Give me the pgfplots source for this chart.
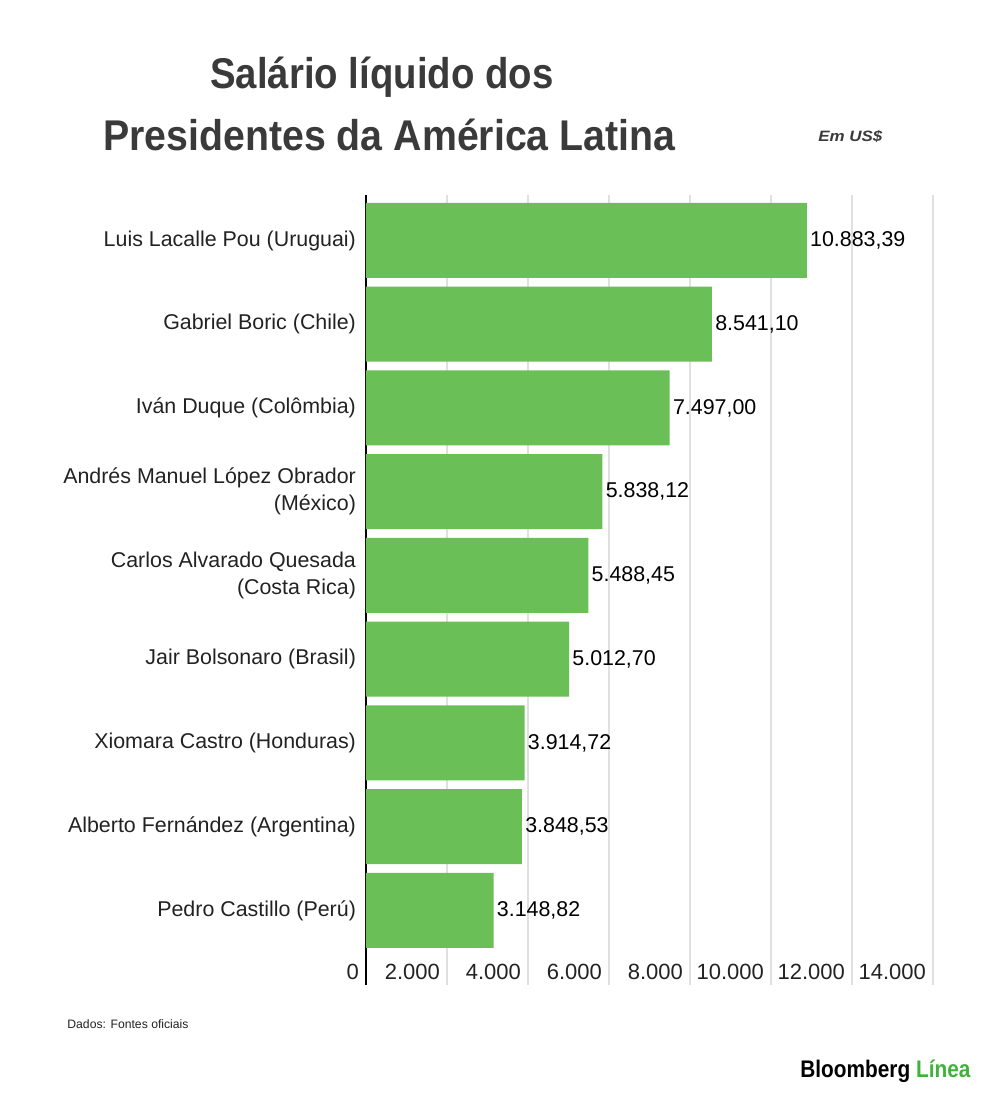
\documentclass[border=0pt]{standalone}
\usepackage{fontspec}
\setmainfont{Liberation Sans}
\usepackage{graphicx}
\usepackage{pgfplots}
\pgfplotsset{compat=1.18}
\usepackage{pgfplotstable}
\definecolor{bargreen}{RGB}{106,191,87}
\definecolor{gridgray}{RGB}{224,224,224}
\definecolor{labelgray}{RGB}{34,34,34}
\definecolor{titlegray}{RGB}{58,58,58}
\definecolor{logogreen}{RGB}{64,178,60}

\pgfplotstableread{
pos value label
0 10883.39 10.883,39
1 8541.10 8.541,10
2 7497.00 7.497,00
3 5838.12 5.838,12
4 5488.45 5.488,45
5 5012.70 5.012,70
6 3914.72 3.914,72
7 3848.53 3.848,53
8 3148.82 3.148,82
}\datatable

\begin{document}
\begin{tikzpicture}[x=1pt,y=1pt]
\useasboundingbox (0,0) rectangle (500,549.5);
% title
\node[anchor=base west, inner sep=0, text=titlegray] at (105,505) {\resizebox{171.5pt}{\height}{\fontsize{21.5}{25}\selectfont\bfseries Salário líquido dos}};
\node[anchor=base west, inner sep=0, text=titlegray] at (51.5,474) {\resizebox{286pt}{\height}{\fontsize{21.5}{25}\selectfont\bfseries Presidentes da América Latina}};
\node[anchor=base west, inner sep=0, text=titlegray] at (409,478.5) {\resizebox{32pt}{\height}{\fontsize{7.5}{9}\selectfont\bfseries\itshape Em US\$}};
% source
\node[anchor=base west, inner sep=0, text=labelgray] at (33.5,35) {\fontsize{6.1}{7}\selectfont Dados: Fontes oficiais};
% logo
\node[anchor=base west, inner sep=0] at (400,10.5) {\resizebox{85pt}{\height}{\fontsize{12}{14}\selectfont\bfseries Bloomberg \textcolor{logogreen}{Línea}}};
\begin{axis}[
  at={(183pt,57pt)}, anchor=south west,
  scale only axis, width=283.5pt, height=395pt,
  xbar, bar width=37.5pt,
  xmin=0, xmax=14000, ymin=-0.543, ymax=8.89, y dir=reverse,
  axis x line*=bottom, axis y line*=left,
  x axis line style={draw=none},
  y axis line style={-, black, line width=0.8pt},
  scaled x ticks=false,
  xtick={0,2000,4000,6000,8000,10000,12000,14000},
  xticklabels={0,2.000,4.000,6.000,8.000,10.000,12.000,14.000},
  xticklabel style={anchor=east, yshift=6.5pt, font=\fontsize{11}{13}\selectfont, text=labelgray},
  ytick={0,1,2,3,4,5,6,7,8},
  yticklabels={Luis Lacalle Pou (Uruguai),Gabriel Boric (Chile),Iván Duque (Colômbia),{Andrés Manuel López Obrador\\(México)},{Carlos Alvarado Quesada\\(Costa Rica)},Jair Bolsonaro (Brasil),Xiomara Castro (Honduras),Alberto Fernández (Argentina),Pedro Castillo (Perú)},
  yticklabel style={align=right, font=\fontsize{10.7}{13.5}\selectfont, text=labelgray, xshift=-1.5pt},
  major tick length=0,
  xmajorgrids, major grid style={gridgray, line width=0.6pt},
  point meta=explicit symbolic,
  nodes near coords,
  nodes near coords style={anchor=west, font=\fontsize{10.7}{13}\selectfont, inner sep=1.5pt, text=black},
  clip=false,
]
\addplot[fill=bargreen, draw=none] table[x=value, y=pos, meta=label]{\datatable};
\end{axis}
\end{tikzpicture}
\end{document}
